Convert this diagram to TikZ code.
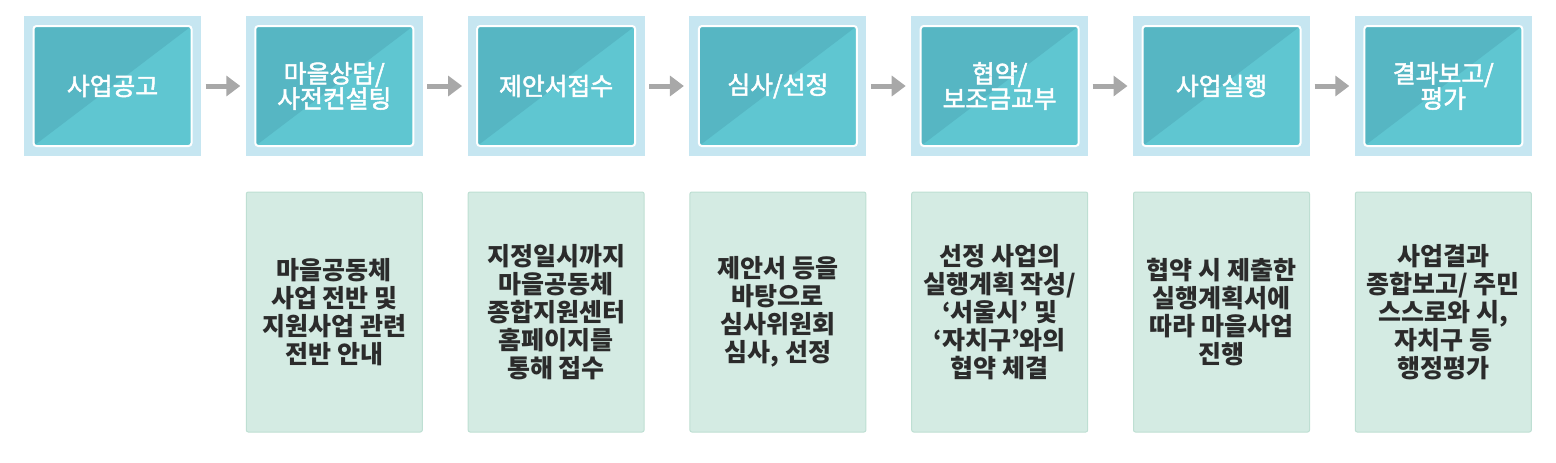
\documentclass[tikz,border=0pt]{standalone}
\usepackage{fontspec}
\setmainfont{Noto Sans CJK KR}
\newfontfamily\krmedium[FakeBold=2]{Noto Sans CJK KR}
\usetikzlibrary{arrows.meta}

\definecolor{framecol}{HTML}{C6E6F1}
\definecolor{tealdark}{HTML}{56B6C3}
\definecolor{teallight}{HTML}{5FC6D1}
\definecolor{mintfill}{HTML}{D4EBE3}
\definecolor{mintline}{HTML}{BEDFD3}
\definecolor{arrowgray}{HTML}{A8A8A8}
\definecolor{textgray}{HTML}{2B2B2B}

\begin{document}
\begin{tikzpicture}[
            x = 0.5pt, y = -0.5pt, % one unit is one pixel of the reference
            > = {Triangle[length=7pt, width=10pt]}, % arrow head style
            shorten > = 1.5pt, % keep arrow off the next frame
            shorten < = 1pt,
            node distance = 110.9pt, % distance between stages
            line width = 2.5pt
        ]

        \tikzstyle{frame}=[
            fill = framecol,
            minimum width = 88.5pt,
            minimum height = 70pt,
            inner sep = 0pt
        ]
        \tikzstyle{stage}=[
            draw = white,
            line width = 1pt,
            fill = teallight,
            rounded corners = 1.5pt,
            minimum width = 79pt,
            minimum height = 60pt,
            align = center,
            text = white,
            font = \krmedium\fontsize{12.4pt}{12.6pt}\selectfont,
            path picture = {
                \fill[tealdark] (path picture bounding box.south west)
                    -- (path picture bounding box.north west)
                    -- (path picture bounding box.north east) -- cycle;
            }
        ]
        \tikzstyle{note}=[
            draw = mintline,
            line width = 0.5pt,
            fill = mintfill,
            rounded corners = 1pt,
            minimum width = 88pt,
            minimum height = 120pt,
            align = center,
            text = textgray,
            font = \bfseries\fontsize{12.5pt}{14pt}\selectfont
        ]

        \useasboundingbox (0,0) rectangle (1556,462);

        % frames of the seven stages
        \node[frame] (f1) at (112.5,86) {};
        \node[frame] (f2) [right of=f1] {};
        \node[frame] (f3) [right of=f2] {};
        \node[frame] (f4) [right of=f3] {};
        \node[frame] (f5) [right of=f4] {};
        \node[frame] (f6) [right of=f5] {};
        \node[frame] (f7) [right of=f6] {};

        % stages
        \node[stage] (s1) at (f1) {사업공고};
        \node[stage] (s2) at (f2) {마을상담/\\사전컨설팅};
        \node[stage] (s3) at (f3) {제안서접수};
        \node[stage] (s4) at (f4) {심사/선정};
        \node[stage] (s5) at (f5) {협약/\\보조금교부};
        \node[stage] (s6) at (f6) {사업실행};
        \node[stage] (s7) at (f7) {결과보고/\\평가};

        % notes below the stages
        \node[note] (n2) [below of=f2, node distance=113pt] {마을공동체\\사업 전반 및\\지원사업 관련\\전반 안내};
        \node[note] (n3) [below of=f3, node distance=113pt] {지정일시까지\\마을공동체\\종합지원센터\\홈페이지를\\통해 접수};
        \node[note] (n4) [below of=f4, node distance=113pt] {제안서 등을\\바탕으로\\심사위원회\\심사, 선정};
        \node[note] (n5) [below of=f5, node distance=113pt] {선정 사업의\\실행계획 작성/\\‘서울시’ 및\\‘자치구’와의\\협약 체결};
        \node[note] (n6) [below of=f6, node distance=113pt] {협약 시 제출한\\실행계획서에\\따라 마을사업\\진행};
        \node[note] (n7) [below of=f7, node distance=113pt] {사업결과\\종합보고/ 주민\\스스로와 시,\\자치구 등\\행정평가};

        \path[->, color=arrowgray] (f1) edge (f2);
        \path[->, color=arrowgray] (f2) edge (f3);
        \path[->, color=arrowgray] (f3) edge (f4);
        \path[->, color=arrowgray] (f4) edge (f5);
        \path[->, color=arrowgray] (f5) edge (f6);
        \path[->, color=arrowgray] (f6) edge (f7);
    \end{tikzpicture}
\end{document}
